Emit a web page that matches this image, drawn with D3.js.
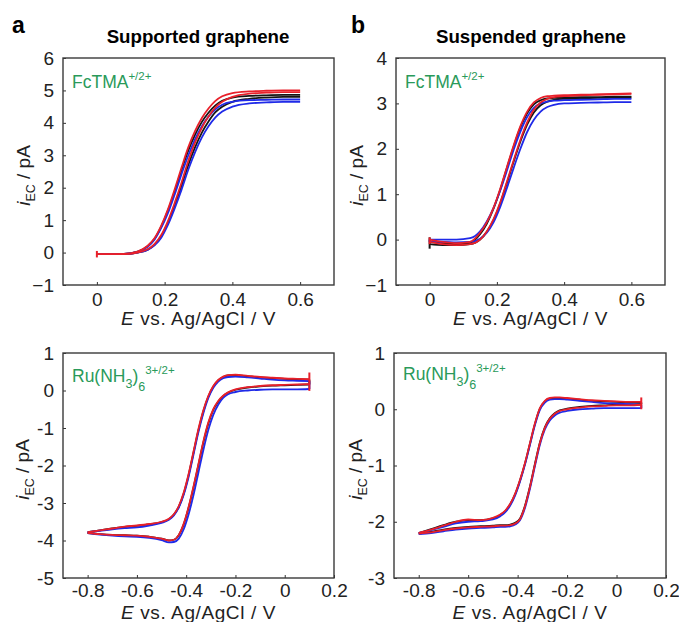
<!DOCTYPE html>
<html><head><meta charset="utf-8">
<script src="https://cdn.jsdelivr.net/npm/d3@7"></script>
<style>body{margin:0;background:#fff}svg{display:block;font-family:"Liberation Sans",Arial,sans-serif}</style>
</head><body>
<svg id="c" width="679" height="622"></svg>
<script>
// ---------- DATA ----------
// FcTMA panels: potential grid (V)
const E_fc = [0,0.04,0.08,0.12,0.15,0.17,0.19,0.21,0.23,0.25,0.27,0.29,0.31,0.33,0.35,0.37,0.4,0.45,0.5,0.55,0.6];
// Panel a (supported graphene), FcTMA – current (pA), two scan branches per cycle
const a1_black_L = [-0.05,-0.05,-0.04,0.03,0.2,0.42,0.8,1.3,1.9,2.55,3.15,3.64,4.03,4.32,4.54,4.68,4.78,4.83,4.85,4.86,4.86];
const a1_black_R = [-0.05,-0.05,-0.05,0.0,0.09,0.24,0.5,0.93,1.47,2.06,2.7,3.25,3.7,4.05,4.33,4.5,4.65,4.74,4.78,4.8,4.8];
const a1_blue_L  = [-0.05,-0.05,-0.04,0.02,0.18,0.4,0.76,1.22,1.8,2.42,3.0,3.5,3.9,4.2,4.42,4.56,4.65,4.7,4.71,4.72,4.72];
const a1_blue_R  = [-0.05,-0.05,-0.05,0.0,0.08,0.22,0.46,0.86,1.37,1.94,2.56,3.1,3.55,3.9,4.17,4.35,4.5,4.6,4.63,4.65,4.65];
const a1_red_L   = [-0.05,-0.05,-0.04,0.03,0.21,0.44,0.83,1.34,1.96,2.62,3.25,3.75,4.15,4.45,4.68,4.82,4.92,4.97,4.99,5.0,5.0];
const a1_red_R   = [-0.05,-0.05,-0.05,0.0,0.1,0.26,0.54,0.98,1.54,2.16,2.83,3.4,3.85,4.2,4.48,4.65,4.8,4.9,4.93,4.95,4.95];
// Panel b (suspended graphene), FcTMA
const b1_black_L = [-0.05,-0.08,-0.1,-0.07,0.12,0.35,0.68,1.1,1.58,2.05,2.47,2.78,2.98,3.07,3.11,3.12,3.13,3.14,3.14,3.15,3.15];
const b1_black_R = [-0.1,-0.12,-0.12,-0.1,0.0,0.17,0.43,0.8,1.25,1.72,2.16,2.53,2.8,2.96,3.04,3.08,3.1,3.11,3.12,3.13,3.13];
const b1_blue_L  = [0.0,0.0,0.0,0.03,0.18,0.4,0.7,1.08,1.52,1.98,2.38,2.7,2.9,3.0,3.04,3.06,3.07,3.08,3.09,3.1,3.1];
const b1_blue_R  = [-0.05,-0.05,-0.06,-0.05,0.02,0.15,0.38,0.72,1.14,1.58,2.0,2.37,2.64,2.82,2.92,2.97,3.0,3.01,3.02,3.03,3.03];
const b1_red_L   = [0.0,-0.05,-0.08,-0.05,0.15,0.38,0.7,1.12,1.6,2.08,2.5,2.82,3.02,3.12,3.16,3.17,3.18,3.19,3.2,3.21,3.22];
const b1_red_R   = [-0.05,-0.1,-0.12,-0.1,0.0,0.18,0.45,0.82,1.28,1.75,2.2,2.58,2.86,3.02,3.1,3.14,3.16,3.18,3.19,3.2,3.21];
// Ru(NH3)6 panels: potential grid (V)
const E_ru = [-0.8,-0.75,-0.7,-0.65,-0.6,-0.55,-0.5,-0.47,-0.45,-0.43,-0.41,-0.39,-0.37,-0.35,-0.33,-0.31,-0.29,-0.27,-0.25,-0.23,-0.2,-0.15,-0.1,-0.05,0,0.05,0.1];
// Panel a, Ru(NH3)6 – upper (U) and lower (D) branches
const a2_black_U = [-3.78,-3.73,-3.68,-3.64,-3.61,-3.57,-3.51,-3.43,-3.31,-3.1,-2.75,-2.25,-1.65,-1.05,-0.55,-0.16,0.1,0.27,0.36,0.4,0.41,0.38,0.35,0.33,0.31,0.3,0.29];
const a2_black_D = [-3.8,-3.83,-3.85,-3.86,-3.87,-3.9,-3.95,-4.0,-3.98,-3.86,-3.57,-3.12,-2.58,-1.98,-1.38,-0.88,-0.52,-0.3,-0.15,-0.06,0.02,0.08,0.11,0.13,0.14,0.15,0.16];
const a2_blue_U  = [-3.78,-3.74,-3.7,-3.67,-3.65,-3.6,-3.53,-3.45,-3.33,-3.12,-2.78,-2.3,-1.7,-1.1,-0.6,-0.2,0.07,0.24,0.33,0.36,0.37,0.35,0.32,0.29,0.27,0.26,0.25];
const a2_blue_D  = [-3.8,-3.84,-3.87,-3.89,-3.9,-3.93,-3.99,-4.05,-4.04,-3.95,-3.7,-3.3,-2.78,-2.18,-1.58,-1.05,-0.65,-0.38,-0.2,-0.1,-0.04,0.0,0.02,0.03,0.03,0.03,0.04];
const a2_red_U   = [-3.78,-3.73,-3.68,-3.63,-3.6,-3.56,-3.5,-3.42,-3.3,-3.08,-2.72,-2.22,-1.62,-1.02,-0.52,-0.14,0.12,0.28,0.37,0.41,0.42,0.39,0.36,0.34,0.32,0.31,0.3];
const a2_red_D   = [-3.8,-3.83,-3.85,-3.86,-3.87,-3.9,-3.95,-4.0,-3.98,-3.85,-3.55,-3.1,-2.55,-1.95,-1.35,-0.85,-0.5,-0.28,-0.14,-0.05,0.03,0.09,0.12,0.14,0.15,0.16,0.17];
// Panel b, Ru(NH3)6
const b2_black_U = [-2.2,-2.13,-2.06,-2.0,-1.97,-1.97,-1.94,-1.88,-1.81,-1.69,-1.51,-1.26,-0.96,-0.61,-0.26,0.01,0.14,0.19,0.2,0.2,0.19,0.17,0.15,0.14,0.13,0.12,0.12];
const b2_black_D = [-2.21,-2.18,-2.14,-2.11,-2.09,-2.08,-2.07,-2.06,-2.06,-2.05,-2.02,-1.94,-1.71,-1.37,-0.97,-0.59,-0.32,-0.16,-0.07,-0.02,0.01,0.04,0.06,0.07,0.08,0.08,0.09];
const b2_blue_U  = [-2.2,-2.15,-2.09,-2.03,-2.0,-1.99,-1.96,-1.9,-1.83,-1.71,-1.53,-1.28,-0.98,-0.63,-0.28,-0.01,0.12,0.17,0.18,0.18,0.17,0.15,0.13,0.11,0.1,0.09,0.08];
const b2_blue_D  = [-2.22,-2.2,-2.17,-2.14,-2.12,-2.11,-2.1,-2.09,-2.09,-2.08,-2.05,-1.97,-1.75,-1.41,-1.01,-0.63,-0.36,-0.2,-0.11,-0.06,-0.03,0.0,0.01,0.02,0.02,0.02,0.02];
const b2_red_U   = [-2.2,-2.14,-2.07,-2.0,-1.96,-1.97,-1.93,-1.87,-1.8,-1.68,-1.5,-1.25,-0.95,-0.6,-0.25,0.02,0.15,0.2,0.21,0.21,0.2,0.18,0.16,0.15,0.14,0.13,0.13];
const b2_red_D   = [-2.21,-2.19,-2.15,-2.12,-2.1,-2.09,-2.08,-2.07,-2.07,-2.06,-2.03,-1.95,-1.72,-1.38,-0.98,-0.6,-0.33,-0.17,-0.08,-0.03,0.0,0.03,0.05,0.06,0.07,0.07,0.08];
// Tick values
const xTicksFc = [0,0.2,0.4,0.6];
const xTicksRu = [-0.8,-0.6,-0.4,-0.2,0,0.2];
const yTicksA1 = [-1,0,1,2,3,4,5,6];
const yTicksB1 = [-1,0,1,2,3,4];
const yTicksA2 = [-5,-4,-3,-2,-1,0,1];
const yTicksB2 = [-3,-2,-1,0,1];
const seriesColors = {black:"#151515", blue:"#1f2ae8", red:"#e8202a"};

// ---------- DRAW ----------
const svg = d3.select("#c");
const green = "#2a9a5a";
const FS = 19;

function panel(o){
  const x = d3.scaleLinear().domain(o.xd).range([o.l, o.r]);
  const y = d3.scaleLinear().domain(o.yd).range([o.b, o.t]);
  const g = svg.append("g");
  const clipId = "clip" + o.id;
  svg.append("clipPath").attr("id", clipId).append("rect")
    .attr("x", o.l).attr("y", o.t).attr("width", o.r-o.l).attr("height", o.b-o.t);
  const line = d3.line().x(d=>x(d[0])).y(d=>y(d[1])).curve(d3.curveMonotoneX);
  const lg = g.append("g").attr("clip-path", `url(#${clipId})`);
  o.series.forEach(s=>{
    [s.a, s.b].forEach(arr=>{
      lg.append("path").datum(o.E.map((e,i)=>[e, arr[i]]))
        .attr("d", line).attr("fill","none")
        .attr("stroke", seriesColors[s.c]).attr("stroke-width",1.8)
        .attr("stroke-linejoin","round");
    });
    const ie = o.endIdx;
    lg.append("line").attr("x1", x(o.E[ie])).attr("x2", x(o.E[ie]))
      .attr("y1", y(s.a[ie] + (s.sp||0))).attr("y2", y(s.b[ie] - (s.sp||0)))
      .attr("stroke", seriesColors[s.c]).attr("stroke-width",2);
  });
  const xa = d3.axisBottom(x).tickValues(o.xt).tickSize(-3).tickPadding(6)
    .tickFormat(d => o.fmtX(d));
  const ya = d3.axisLeft(y).tickValues(o.yt).tickSize(-3).tickPadding(9)
    .tickFormat(d => o.fmtY(d));
  const gx = g.append("g").attr("transform",`translate(0,${o.b})`).call(xa);
  const gy = g.append("g").attr("transform",`translate(${o.l},0)`).call(ya);
  [gx, gy].forEach(a=>{
    a.select(".domain").remove();
    a.selectAll("line").attr("stroke","#333").attr("stroke-width",1);
    a.selectAll("text").attr("font-size",FS).attr("fill","#222")
      .attr("font-family","'Liberation Sans',Arial,sans-serif");
  });
  gx.selectAll("text").attr("dy", null).attr("y", o.xLabY);
  g.append("rect").attr("x",o.l).attr("y",o.t).attr("width",o.r-o.l).attr("height",o.b-o.t)
    .attr("fill","none").attr("stroke","#3a3a3a").attr("stroke-width",1.4);
  const xl = g.append("text").attr("x",(o.l+o.r)/2).attr("y",o.b+o.xTitleOff)
    .attr("text-anchor","middle").attr("font-size",FS).attr("letter-spacing",0.6).attr("fill","#222");
  xl.append("tspan").attr("font-style","italic").text("E");
  xl.append("tspan").text(" vs. Ag/AgCl / V");
  const yl = g.append("text").attr("transform",`translate(${o.yTitleX},${(o.t+o.b)/2+4}) rotate(-90)`)
    .attr("text-anchor","middle").attr("font-size",FS).attr("fill","#222");
  yl.append("tspan").attr("font-style","italic").text("i");
  yl.append("tspan").attr("font-size",12.5).attr("dy",5).text("EC");
  yl.append("tspan").attr("dy",-5).text(" / pA");
  const lt = g.append("text").attr("x",o.l+9).attr("y",o.legY).attr("font-size",17.5).attr("fill",green);
  o.legend(lt);
}

const fmtMinus = d => (d<0 ? "\u2212" : "") + Math.abs(d);
const fmtHyph = d => (d<0 ? "-" : "") + d3.format("")(Math.abs(d));

const fcLegend = t=>{t.append("tspan").text("FcTMA"); t.append("tspan").attr("font-size",11.5).attr("dy",-8).text("+/2+");};
panel({id:"a1", l:63, r:334, t:58, b:285, xd:[-0.1,0.7], yd:[-1,6], E:E_fc, endIdx:0,
  xt:xTicksFc, yt:yTicksA1, fmtX:d=>String(d), fmtY:fmtMinus, xLabY:21, xTitleOff:40, yTitleX:30, legY:88,
  series:[{c:"black",a:a1_black_L,b:a1_black_R},{c:"blue",a:a1_blue_L,b:a1_blue_R},{c:"red",a:a1_red_L,b:a1_red_R,sp:0.1}],
  legend:fcLegend});
panel({id:"b1", l:396, r:665, t:58, b:285, xd:[-0.1,0.7], yd:[-1,4], E:E_fc, endIdx:0,
  xt:xTicksFc, yt:yTicksB1, fmtX:d=>String(d), fmtY:fmtMinus, xLabY:21, xTitleOff:40, yTitleX:363, legY:88,
  series:[{c:"black",a:b1_black_L,b:b1_black_R,sp:0.1},{c:"blue",a:b1_blue_L,b:b1_blue_R},{c:"red",a:b1_red_L,b:b1_red_R,sp:0.05}],
  legend:fcLegend});
const ruLegend = t=>{
  t.append("tspan").text("Ru(NH");
  t.append("tspan").attr("font-size",12.5).attr("dy",6).text("3");
  t.append("tspan").attr("dy",-6).text(")");
  t.append("tspan").attr("font-size",12.5).attr("dy",9).text("6");
  t.append("tspan").attr("font-size",11.5).attr("dy",-17).text("3+/2+");
};
panel({id:"a2", l:63, r:334, t:353, b:578, xd:[-0.9,0.2], yd:[-5,1], E:E_ru, endIdx:E_ru.length-1,
  xt:xTicksRu, yt:yTicksA2, fmtX:fmtHyph, fmtY:fmtHyph, xLabY:19, xTitleOff:41, yTitleX:29, legY:382,
  series:[{c:"black",a:a2_black_U,b:a2_black_D},{c:"blue",a:a2_blue_U,b:a2_blue_D},{c:"red",a:a2_red_U,b:a2_red_D,sp:0.18}],
  legend:ruLegend});
panel({id:"b2", l:394, r:666, t:353, b:578, xd:[-0.9,0.2], yd:[-3,1], E:E_ru, endIdx:E_ru.length-1,
  xt:xTicksRu, yt:yTicksB2, fmtX:fmtHyph, fmtY:fmtHyph, xLabY:19, xTitleOff:41, yTitleX:362, legY:380,
  series:[{c:"black",a:b2_black_U,b:b2_black_D},{c:"blue",a:b2_blue_U,b:b2_blue_D},{c:"red",a:b2_red_U,b:b2_red_D,sp:0.08}],
  legend:ruLegend});

svg.append("text").attr("x",12).attr("y",33).attr("font-size",23).attr("font-weight","bold").text("a");
svg.append("text").attr("x",351).attr("y",33).attr("font-size",23).attr("font-weight","bold").text("b");
svg.append("text").attr("x",198).attr("y",43).attr("text-anchor","middle").attr("font-size",18.7).attr("font-weight","bold").text("Supported graphene");
svg.append("text").attr("x",531).attr("y",43).attr("text-anchor","middle").attr("font-size",18.7).attr("font-weight","bold").text("Suspended graphene");
</script>
</body></html>
